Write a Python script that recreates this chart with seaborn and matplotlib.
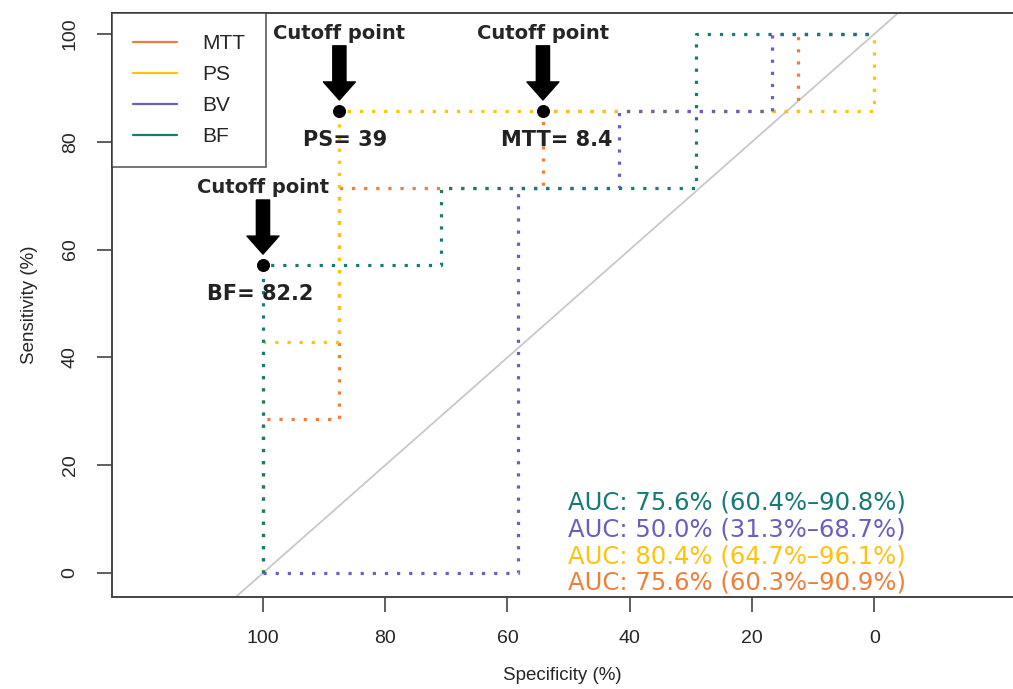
import numpy as np
import pandas as pd
import seaborn as sns
import matplotlib.pyplot as plt
from matplotlib.lines import Line2D

# ROC curve vertices (specificity %, sensitivity %)
spec_mtt = [100, 100, 87.5, 87.5, 54.2, 54.2, 12.5, 12.5, 0]
sens_mtt = [0, 28.6, 28.6, 71.4, 71.4, 85.7, 85.7, 100, 100]
spec_ps = [100, 100, 87.5, 87.5, 0, 0]
sens_ps = [0, 42.9, 42.9, 85.7, 85.7, 100]
spec_bv = [100, 58.3, 58.3, 41.7, 41.7, 16.7, 16.7, 0]
sens_bv = [0, 0, 71.4, 71.4, 85.7, 85.7, 100, 100]
spec_bf = [100, 100, 70.8, 70.8, 29.2, 29.2, 0]
sens_bf = [0, 57.1, 57.1, 71.4, 71.4, 100, 100]

markers = ["MTT", "PS", "BV", "BF"]
colors = ["#F07E3A", "#FFC20E", "#6A5FC1", "#177A76"]

auc_labels = [
    "AUC: 75.6% (60.4%\u201390.8%)",
    "AUC: 50.0% (31.3%\u201368.7%)",
    "AUC: 80.4% (64.7%\u201396.1%)",
    "AUC: 75.6% (60.3%\u201390.9%)",
]
auc_colors = ["#177A76", "#6A5FC1", "#FFC20E", "#F07E3A"]

cut_spec = [87.5, 54.2, 100]
cut_sens = [85.7, 85.7, 57.1]
cut_labels = ["PS= 39", "MTT= 8.4", "BF= 82.2"]

curves = {
    "MTT": (spec_mtt, sens_mtt),
    "PS": (spec_ps, sens_ps),
    "BV": (spec_bv, sens_bv),
    "BF": (spec_bf, sens_bf),
}

sns.set_style("white")
plt.rcParams["font.family"] = ["Liberation Sans", "DejaVu Sans"]

fig = plt.figure(figsize=(10.13, 6.89), dpi=100)
ax = fig.add_axes([112 / 1013, 92 / 689, 901 / 1013, 584 / 689])

# chance diagonal
ax.axline((100, 0), (0, 100), color="#C8C8C8", lw=1.3, zorder=1)

for name, col in zip(markers, colors):
    sp, se = curves[name]
    df = pd.DataFrame({"spec": sp, "sens": se})
    sns.lineplot(data=df, x="spec", y="sens", sort=False, estimator=None,
                 color=col, lw=2.3, ax=ax, zorder=2)
    ax.lines[-1].set_linestyle((0, (1, 2.8)))

# cutoff points
sns.scatterplot(x=cut_spec, y=cut_sens, color="black", s=75, ax=ax, zorder=5,
                edgecolor="black")
bold_font = ["DejaVu Sans"]
lab_dx = [4, 10, -2]
for sx, sy, lab, dx in zip(cut_spec, cut_sens, cut_labels, lab_dx):
    ax.annotate("", xy=(sx, sy), xytext=(0, 47), textcoords="offset points",
                xycoords="data",
                arrowprops=dict(arrowstyle="simple,head_width=2.3,head_length=1.3,tail_width=0.95",
                                mutation_scale=10, color="black", shrinkA=0, shrinkB=8))
    ax.annotate("Cutoff point", xy=(sx, sy), xytext=(0, 56), textcoords="offset points",
                ha="center", va="center", fontsize=14, fontweight="bold",
                family=bold_font)
    ax.annotate(lab, xy=(sx, sy), xytext=(dx, -21), textcoords="offset points",
                ha="center", va="center", fontsize=15, fontweight="bold",
                family=bold_font, color="#222222")

# AUC texts
for i, (txt, col) in enumerate(zip(auc_labels, auc_colors)):
    ax.text(0.506, [0.162, 0.116, 0.070, 0.024][i], txt, color=col,
            transform=ax.transAxes, fontsize=17.5, va="center", ha="left",
            family=["DejaVu Sans"])

ax.set_xlim(124.7, -22.7)
ax.set_ylim(-4.45, 103.9)
ax.set_xticks([100, 80, 60, 40, 20, 0])
ax.set_yticks([0, 20, 40, 60, 80, 100])
ax.tick_params(axis="both", direction="out", length=11, width=1.2, color="#444444",
               labelsize=14, pad=13, left=True, bottom=True)
plt.setp(ax.get_yticklabels(), rotation=90, va="center")
ax.set_xlabel("Specificity (%)", fontsize=13.5, labelpad=14)
ax.set_ylabel("Sensitivity (%)", fontsize=13.5, labelpad=17)

for side in ["left", "top", "bottom"]:
    ax.spines[side].set_color("#444444")
    ax.spines[side].set_linewidth(1.4)
ax.spines["right"].set_visible(False)

handles = [Line2D([0], [0], color=c, lw=1.6) for c in colors]
leg = ax.legend(handles, markers, loc="upper left", bbox_to_anchor=(0, 1),
                borderaxespad=0, fontsize=15, frameon=True, fancybox=False,
                handlelength=2.1, handletextpad=1.25, labelspacing=0.58,
                borderpad=1.0)
leg.get_frame().set_edgecolor("#333333")
leg.get_frame().set_linewidth(1.2)

fig.savefig("out.png", dpi=100)
